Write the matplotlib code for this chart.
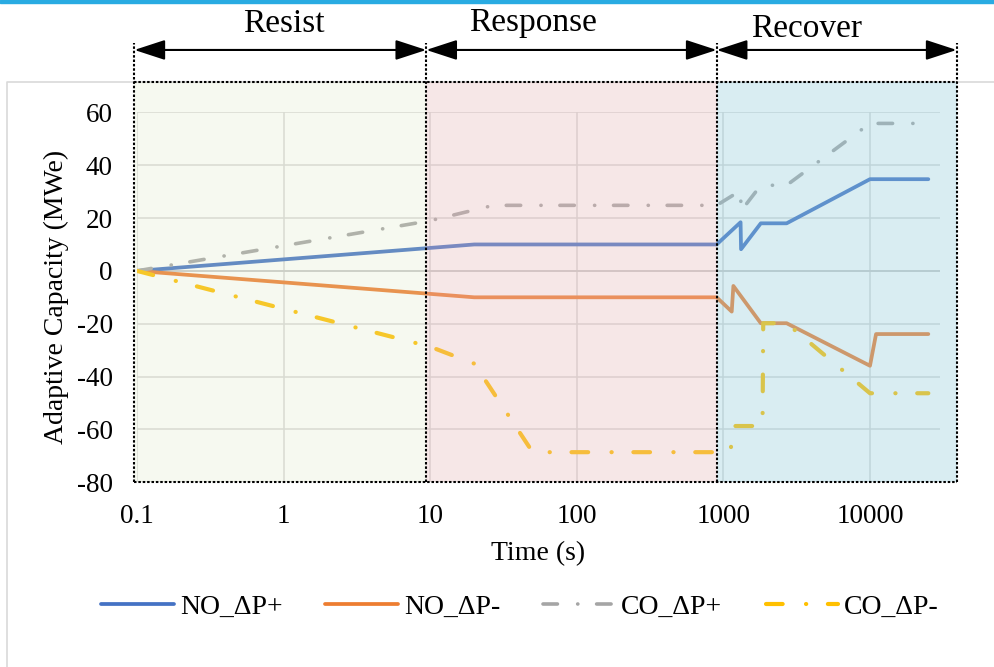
import matplotlib
matplotlib.use('Agg')
import matplotlib.pyplot as plt
from matplotlib.patches import Rectangle, ArrowStyle
from matplotlib.lines import Line2D

plt.rcParams['font.family'] = ['Liberation Serif', 'DejaVu Serif']
plt.rcParams['axes.unicode_minus'] = False

# values
time_no_pos = [0.1, 20, 900, 1310, 1320, 1800, 2700, 10000, 25000]
no_pos = [0, 10, 10, 18.4, 8.2, 18, 18, 34.7, 34.7]

time_no_neg = [0.1, 20, 900, 1140, 1170, 1800, 2700, 10000, 11000, 25000]
no_neg = [0, -10, -10, -15.4, -5.7, -19.8, -19.8, -35.9, -23.9, -23.9]

time_co_pos = [0.1, 10, 27, 900, 1310, 1320, 1800, 2700, 10000, 25000]
co_pos = [0, 19, 24.8, 24.8, 30.4, 22.7, 32.4, 32.4, 55.8, 55.8]

time_co_neg = [0.1, 10, 20, 50, 1110, 1200, 1850, 1870, 2700, 10000, 25000]
co_neg = [0, -28.7, -35.1, -68.6, -68.6, -58.7, -58.7, -19.8, -19.8, -46.3, -46.3]

series_labels = ['NO_ΔP+', 'NO_ΔP-', 'CO_ΔP+', 'CO_ΔP-']
series_colors = ['#4472C4', '#ED7D31', '#A5A5A5', '#FFC000']

phase_names = ['Resist', 'Response', 'Recover']
phase_edges = [0.096, 9.4, 900, 39000]
phase_label_x = [1.0, 50, 3700]
phase_label_y = [90.5, 90.9, 88.6]
phase_colors = ['#D8E4BC', '#E6B9B8', '#92CDDC']
phase_alpha = [0.22, 0.33, 0.35]

x_ticks = [0.1, 1, 10, 100, 1000, 10000]
x_ticklabels = ['0.1', '1', '10', '100', '1000', '10000']
y_ticks = [-80, -60, -40, -20, 0, 20, 40, 60]

dash_dot = (0, (4, 5.6, 0.05, 5.2))
dotted = (0, (1.2, 0.9))

fig = plt.figure(figsize=(9.94, 6.67), dpi=100)
ax = fig.add_axes([0.1378, 0.2769, 0.8078, 0.5547])
ax.set_xscale('log')
ax.set_xlim(0.1, 30000)
ax.set_ylim(-80, 60)
ax.set_xticks(x_ticks)
ax.set_xticklabels(x_ticklabels)
ax.minorticks_off()
ax.set_yticks(y_ticks)
ax.tick_params(length=0, labelsize=19.5)
ax.tick_params(axis='y', pad=17.5)
ax.tick_params(axis='x', pad=15.5)
for s in ax.spines.values():
    s.set_visible(False)
ax.grid(True, color='#D9D9D9', lw=1.1)
ax.axhline(0, color='#C8C8C8', lw=1.2, zorder=1)
ax.set_axisbelow(True)

ax.set_xlabel('Time (s)', fontsize=20)
ax.set_ylabel('Adaptive Capacity (MWe)', fontsize=20)
ax.xaxis.set_label_coords(0.5, -0.16)
ax.yaxis.set_label_coords(-0.085, 0.5)

l1, = ax.plot(time_no_pos, no_pos, color=series_colors[0], lw=2.7,
              solid_capstyle='round', solid_joinstyle='round', zorder=3)
l2, = ax.plot(time_no_neg, no_neg, color=series_colors[1], lw=2.7,
              solid_capstyle='round', solid_joinstyle='round', zorder=3)
l3, = ax.plot(time_co_pos, co_pos, color=series_colors[2], lw=2.6,
              ls=dash_dot, dash_capstyle='round', zorder=3)
l4, = ax.plot(time_co_neg, co_neg, color=series_colors[3], lw=3.0,
              ls=dash_dot, dash_capstyle='round', zorder=3)

# phase shading (drawn over the lines, semi transparent)
box_top = 71.6
for i, name in enumerate(phase_names):
    x0, x1 = phase_edges[i], phase_edges[i + 1]
    ax.add_patch(Rectangle((x0, -80), x1 - x0, box_top + 80, facecolor=phase_colors[i],
                           alpha=phase_alpha[i], edgecolor='none', clip_on=False, zorder=5))
    ax.annotate('', xy=(x1, 83.6), xytext=(x0, 83.6),
                arrowprops=dict(arrowstyle=ArrowStyle('<|-|>', head_length=1.9, head_width=0.62),
                                mutation_scale=10, color='black', lw=1.5,
                                shrinkA=0, shrinkB=0),
                annotation_clip=False, zorder=6)
    ax.text(phase_label_x[i], phase_label_y[i], name, fontsize=24, ha='center',
            va='baseline', clip_on=False)

# dotted frame: one top line, one bottom line, one vertical per edge
for yb in (-80, box_top):
    ax.plot([phase_edges[0], phase_edges[-1]], [yb, yb], color='black', lw=1.5,
            ls=dotted, clip_on=False, zorder=6)
for xe in phase_edges:
    ax.plot([xe, xe], [-80, 86.1], color='black', lw=1.5, ls=dotted,
            clip_on=False, zorder=6)

# chart frame bits
fig.add_artist(Rectangle((0, 1 - 3.3 / 667), 1, 3.3 / 667, transform=fig.transFigure,
                         color='#29ABE2', zorder=0))
fig.add_artist(Line2D([7 / 994, 7 / 994, 1.01], [-0.01, 1 - 82 / 667, 1 - 82 / 667],
                      transform=fig.transFigure, color='#D9D9D9', lw=1.2, zorder=0))

fig.legend([l1, l2, l3, l4], series_labels, loc='center',
           bbox_to_anchor=(520 / 994, 1 - 606.7 / 667), ncol=4, frameon=False,
           fontsize=20, handlelength=2.6, handletextpad=0.22, columnspacing=1.55)

fig.savefig('out.png', dpi=100)
